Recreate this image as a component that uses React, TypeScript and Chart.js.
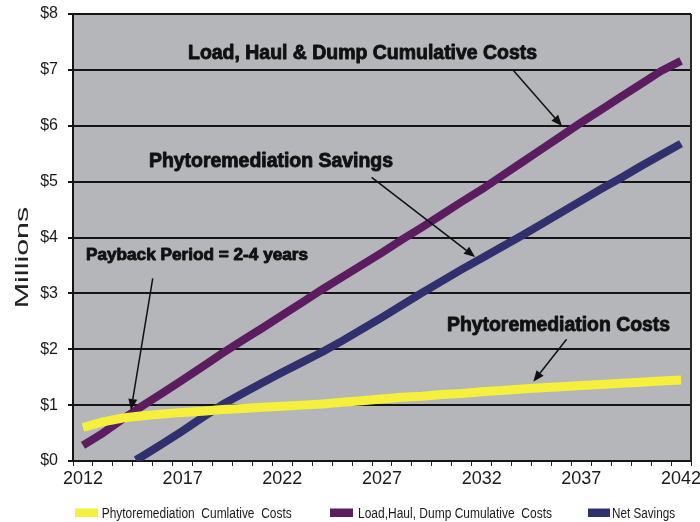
import React, { useEffect, useRef } from 'react';
import { Chart, registerables } from 'chart.js';

Chart.register(...registerables);

// ---------- data ----------
const yearLabels = [
  '2012', '2013', '2014', '2015', '2016', '2017', '2018', '2019', '2020', '2021',
  '2022', '2023', '2024', '2025', '2026', '2027', '2028', '2029', '2030', '2031',
  '2032', '2033', '2034', '2035', '2036', '2037', '2038', '2039', '2040', '2041', '2042',
];
const years = [
  2012, 2013, 2014, 2015, 2016, 2017, 2018, 2019, 2020, 2021,
  2022, 2023, 2024, 2025, 2026, 2027, 2028, 2029, 2030, 2031,
  2032, 2033, 2034, 2035, 2036, 2037, 2038, 2039, 2040, 2041, 2042,
];
const phytoCosts = [
  0.60, 0.70, 0.77, 0.81, 0.84, 0.87, 0.89, 0.92, 0.94, 0.96,
  0.98, 1.00, 1.02, 1.05, 1.08, 1.11, 1.14, 1.16, 1.19, 1.21,
  1.24, 1.26, 1.29, 1.31, 1.33, 1.35, 1.37, 1.39, 1.41, 1.43, 1.45,
];
const lhdCosts = [
  0.28, 0.50, 0.75, 0.99, 1.22, 1.45, 1.69, 1.93, 2.16, 2.38,
  2.61, 2.84, 3.07, 3.29, 3.51, 3.73, 3.96, 4.18, 4.41, 4.64,
  4.86, 5.10, 5.34, 5.58, 5.82, 6.06, 6.29, 6.52, 6.75, 6.98, 7.16,
];
const netSavingsYears = [
  2014.65, 2015, 2016, 2017, 2018, 2019, 2020, 2021,
  2022, 2023, 2024, 2025, 2026, 2027, 2028, 2029, 2030, 2031,
  2032, 2033, 2034, 2035, 2036, 2037, 2038, 2039, 2040, 2041, 2042,
];
const netSavings = [
  0.02, 0.09, 0.31, 0.54, 0.78, 1.01, 1.21, 1.40,
  1.59, 1.77, 1.95, 2.15, 2.36, 2.57, 2.79, 3.01, 3.22, 3.43,
  3.63, 3.83, 4.03, 4.24, 4.45, 4.66, 4.87, 5.07, 5.28, 5.48, 5.68,
];
const seriesNames = [
  'Phytoremediation  Cumlative  Costs',
  'Load,Haul, Dump Cumulative  Costs',
  'Net Savings',
];
const seriesColors = ['#f4f03c', '#5c1c60', '#30306e'];
const yAxisTitle = 'Millions';

// annotation texts and arrows (anchored in data units: year, $M)
const notes = [
  { text: 'Load, Haul & Dump Cumulative Costs', x0: 2017.27, x1: 2034.78, y: 7.186, size: 20 },
  { text: 'Phytoremediation Savings', x0: 2015.31, x1: 2027.55, y: 5.267, size: 19.5 },
  { text: 'Payback Period = 2-4 years', x0: 2012.15, x1: 2023.29, y: 3.597, size: 17 },
  { text: 'Phytoremediation Costs', x0: 2030.26, x1: 2041.45, y: 2.332, size: 19.5 },
];
const arrows = [
  { fx: 2033.57, fy: 6.998, tx: 2036.03, ty: 5.996 },
  { fx: 2026.48, fy: 5.077, tx: 2031.67, ty: 3.651 },
  { fx: 2015.5, fy: 3.27, tx: 2014.41, ty: 0.913 },
  { fx: 2036.26, fy: 2.178, tx: 2034.59, ty: 1.419 },
];

const SANS = "'Liberation Sans', Arial, Helvetica, sans-serif";
const NARROW = "'Liberation Sans Narrow', 'Arial Narrow', 'Liberation Sans', Arial, sans-serif";

function fitText(ctx: CanvasRenderingContext2D, text: string, left: number, right: number,
  baseline: number, size: number, weight: string, family: string, stroke = 0) {
  ctx.save();
  ctx.font = `${weight} ${size}px ${family}`;
  const w = ctx.measureText(text).width;
  const target = right - left;
  ctx.translate(left, baseline);
  ctx.scale(target / w, 1);
  ctx.textAlign = 'left';
  ctx.textBaseline = 'alphabetic';
  ctx.fillText(text, 0, 0);
  if (stroke > 0) {
    ctx.strokeStyle = ctx.fillStyle as string;
    ctx.lineWidth = stroke;
    ctx.lineJoin = 'round';
    ctx.strokeText(text, 0, 0);
  }
  ctx.restore();
}

function drawArrow(ctx: CanvasRenderingContext2D, x1: number, y1: number, x2: number, y2: number) {
  const ang = Math.atan2(y2 - y1, x2 - x1);
  const L = 11;
  const H = 4.5;
  const bx = x2 - L * Math.cos(ang);
  const by = y2 - L * Math.sin(ang);
  ctx.save();
  ctx.strokeStyle = '#111';
  ctx.fillStyle = '#111';
  ctx.lineWidth = 1.5;
  ctx.beginPath();
  ctx.moveTo(x1, y1);
  ctx.lineTo(bx, by);
  ctx.stroke();
  ctx.beginPath();
  ctx.moveTo(x2, y2);
  ctx.lineTo(bx + H * Math.sin(ang), by - H * Math.cos(ang));
  ctx.lineTo(bx - H * Math.sin(ang), by + H * Math.cos(ang));
  ctx.closePath();
  ctx.fill();
  ctx.restore();
}

const decorPlugin = {
  id: 'decor',
  beforeDraw(chart: any) {
    const { ctx, chartArea: a } = chart;
    ctx.save();
    ctx.fillStyle = '#ffffff';
    ctx.fillRect(0, 0, chart.width, chart.height);
    ctx.fillStyle = '#b5b6ba';
    ctx.fillRect(a.left, a.top, a.right - a.left, a.bottom - a.top);
    ctx.restore();
  },
  afterDraw(chart: any) {
    const { ctx, chartArea: a } = chart;
    const xs = chart.scales.xv;
    const ys = chart.scales.y;
    // right border
    ctx.save();
    ctx.strokeStyle = '#2a2a2a';
    ctx.lineWidth = 2;
    ctx.beginPath();
    ctx.moveTo(a.right, a.top);
    ctx.lineTo(a.right, a.bottom);
    ctx.stroke();
    ctx.restore();

    // annotations
    ctx.save();
    ctx.fillStyle = '#111111';
    notes.forEach((n) => {
      fitText(ctx, n.text, xs.getPixelForValue(n.x0), xs.getPixelForValue(n.x1),
        ys.getPixelForValue(n.y), n.size, 'bold', SANS, 0.9);
    });
    arrows.forEach((r) => {
      drawArrow(ctx, xs.getPixelForValue(r.fx), ys.getPixelForValue(r.fy),
        xs.getPixelForValue(r.tx), ys.getPixelForValue(r.ty));
    });
    ctx.restore();

    // y title
    ctx.save();
    ctx.fillStyle = '#222';
    ctx.translate(0, 257.5);
    ctx.rotate(-Math.PI / 2);
    fitText(ctx, yAxisTitle, -50.8, 50.8, 28, 18, 'normal', SANS);
    ctx.restore();

    // legend
    const items = [
      { box: [75, 98], text: [101.7, 291.7] },
      { box: [330, 353], text: [358, 552] },
      { box: [588, 610], text: [612, 675] },
    ];
    ctx.save();
    items.forEach((it, i) => {
      ctx.fillStyle = seriesColors[i];
      ctx.fillRect(it.box[0], 508.5, it.box[1] - it.box[0], 8.5);
      ctx.fillStyle = '#1a1a1a';
      fitText(ctx, seriesNames[i], it.text[0], it.text[1], 518, 14, 'normal', SANS);
    });
    ctx.restore();
  },
};

export default function App() {
  const ref = useRef<HTMLCanvasElement | null>(null);
  useEffect(() => {
    if (!ref.current) return;
    const chart = new Chart(ref.current, {
      type: 'line',
      data: {
        labels: yearLabels,
        datasets: [
          {
            label: seriesNames[0],
            data: years.map((x, i) => ({ x, y: phytoCosts[i] })),
            borderColor: seriesColors[0],
            backgroundColor: seriesColors[0],
            borderWidth: 9,
            xAxisID: 'xv',
          },
          {
            label: seriesNames[1],
            data: years.map((x, i) => ({ x, y: lhdCosts[i] })),
            borderColor: seriesColors[1],
            backgroundColor: seriesColors[1],
            borderWidth: 8,
            xAxisID: 'xv',
          },
          {
            label: seriesNames[2],
            data: netSavingsYears.map((x, i) => ({ x, y: netSavings[i] })),
            borderColor: seriesColors[2],
            backgroundColor: seriesColors[2],
            borderWidth: 8,
            xAxisID: 'xv',
          },
        ],
      },
      options: {
        responsive: false,
        animation: false,
        devicePixelRatio: 1,
        layout: { padding: { top: 14, right: 9, left: 0, bottom: 0 } },
        elements: {
          point: { radius: 0, hoverRadius: 0 },
          line: { tension: 0, borderCapStyle: 'butt', borderJoinStyle: 'round' },
        },
        plugins: {
          legend: { display: false },
          tooltip: { enabled: false },
          title: { display: false },
        },
        scales: {
          x: {
            type: 'category',
            position: 'bottom',
            offset: true,
            grid: {
              offset: true,
              drawOnChartArea: false,
              drawTicks: true,
              tickLength: 5,
              color: '#222',
              lineWidth: 1,
            },
            border: { display: true, color: '#151515', width: 2 },
            ticks: {
              autoSkip: false,
              maxRotation: 0,
              minRotation: 0,
              padding: 2,
              color: '#1a1a1a',
              font: { family: NARROW, size: 18 },
              callback: (_v: any, idx: number) => (idx % 5 === 0 ? yearLabels[idx] : ''),
            },
            afterFit: (s: any) => {
              s.height = 61;
              s.paddingLeft = 0;
              s.paddingRight = 0;
            },
          },
          xv: {
            type: 'linear',
            position: 'bottom',
            display: false,
            min: 2011.5,
            max: 2042.5,
          },
          y: {
            type: 'linear',
            min: 0,
            max: 8,
            ticks: {
              stepSize: 1,
              padding: 10,
              color: '#1a1a1a',
              font: { family: SANS, size: 16 },
              callback: (v: any) => '$' + v,
            },
            grid: {
              color: '#151515',
              lineWidth: 2,
              tickLength: 5,
              drawTicks: true,
            },
            border: { display: true, color: '#151515', width: 2 },
            afterFit: (s: any) => {
              s.width = 73;
              s.paddingTop = 0;
              s.paddingBottom = 0;
            },
          },
        },
      },
      plugins: [decorPlugin],
    } as any);
    return () => chart.destroy();
  }, []);
  return (
    <div style={{ position: 'fixed', left: 0, top: 0, width: 700, height: 522, background: '#fff' }}>
      <canvas ref={ref} width={700} height={522} style={{ display: 'block', width: 700, height: 522 }} />
    </div>
  );
}
